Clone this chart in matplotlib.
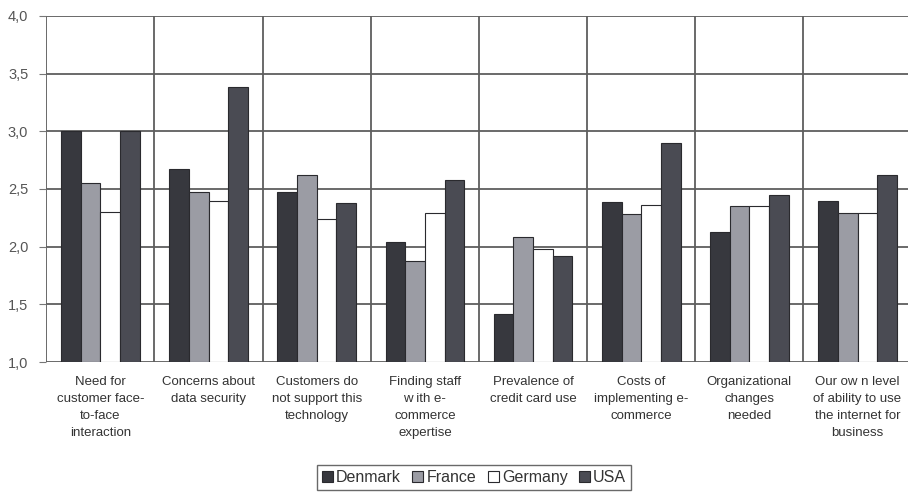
import matplotlib.pyplot as plt
import numpy as np

plt.rcParams['font.family'] = ['Liberation Sans', 'DejaVu Sans']

categories = [
    'Need for\ncustomer face-\nto-face\ninteraction',
    'Concerns about\ndata security',
    'Customers do\nnot support this\ntechnology',
    'Finding staff\nw ith e-\ncommerce\nexpertise',
    'Prevalence of\ncredit card use',
    'Costs of\nimplementing e-\ncommerce',
    'Organizational\nchanges\nneeded',
    'Our ow n level\nof ability to use\nthe internet for\nbusiness',
]
countries = ['Denmark', 'France', 'Germany', 'USA']
denmark = [3.00, 2.67, 2.47, 2.04, 1.42, 2.39, 2.13, 2.40]
france = [2.55, 2.47, 2.62, 1.88, 2.08, 2.28, 2.35, 2.29]
germany = [2.30, 2.40, 2.24, 2.29, 1.98, 2.36, 2.35, 2.29]
usa = [3.00, 3.38, 2.38, 2.58, 1.92, 2.90, 2.45, 2.62]
yticks = [1.0, 1.5, 2.0, 2.5, 3.0, 3.5, 4.0]

colors = ['#37383e', '#9b9ca4', '#ffffff', '#4a4b53']
series = [denmark, france, germany, usa]

fig = plt.figure(figsize=(9.08, 4.98), dpi=100)
ax = fig.add_axes([0.051, 0.273, 0.953, 0.695])

x = np.arange(len(categories))
w = 0.182
for i, (vals, c, name) in enumerate(zip(series, colors, countries)):
    ax.bar(x + (i - 1.5) * w, np.array(vals) - 1.0, bottom=1.0, width=w,
           color=c, edgecolor='#2a2a2e', linewidth=0.8, label=name, zorder=3)

ax.set_xlim(-0.5, len(categories) - 0.5)
ax.set_ylim(1.0, 4.0)
ax.set_yticks(yticks)
ax.set_yticklabels([f'{v:.1f}'.replace('.', ',') for v in yticks],
                   fontsize=10.5, color='#555555')

# horizontal grid at value ticks, vertical separators between categories
for v in yticks:
    ax.axhline(v, color='#5e5e5e', linewidth=1.3, zorder=1)
for b in np.arange(-0.5, len(categories), 1.0):
    ax.axvline(b, color='#5e5e5e', linewidth=1.3, zorder=1)

ax.set_xticks(x)
ax.set_xticklabels(categories, fontsize=9.5, color='#333333', linespacing=1.55)
ax.tick_params(axis='x', length=0, pad=10)
ax.tick_params(axis='y', length=5, color='#777777', pad=8)
for s in ax.spines.values():
    s.set_visible(False)

leg = fig.legend(loc='lower center', bbox_to_anchor=(0.522, 0.0), ncol=4,
                 fontsize=11.5, frameon=True, fancybox=False,
                 handlelength=0.7, handleheight=0.7, handletextpad=0.2,
                 columnspacing=0.7, borderpad=0.3)
leg.get_frame().set_edgecolor('#444444')
leg.get_frame().set_linewidth(1.0)
for t in leg.get_texts():
    t.set_color('#333333')

fig.savefig('out.png', dpi=100)
